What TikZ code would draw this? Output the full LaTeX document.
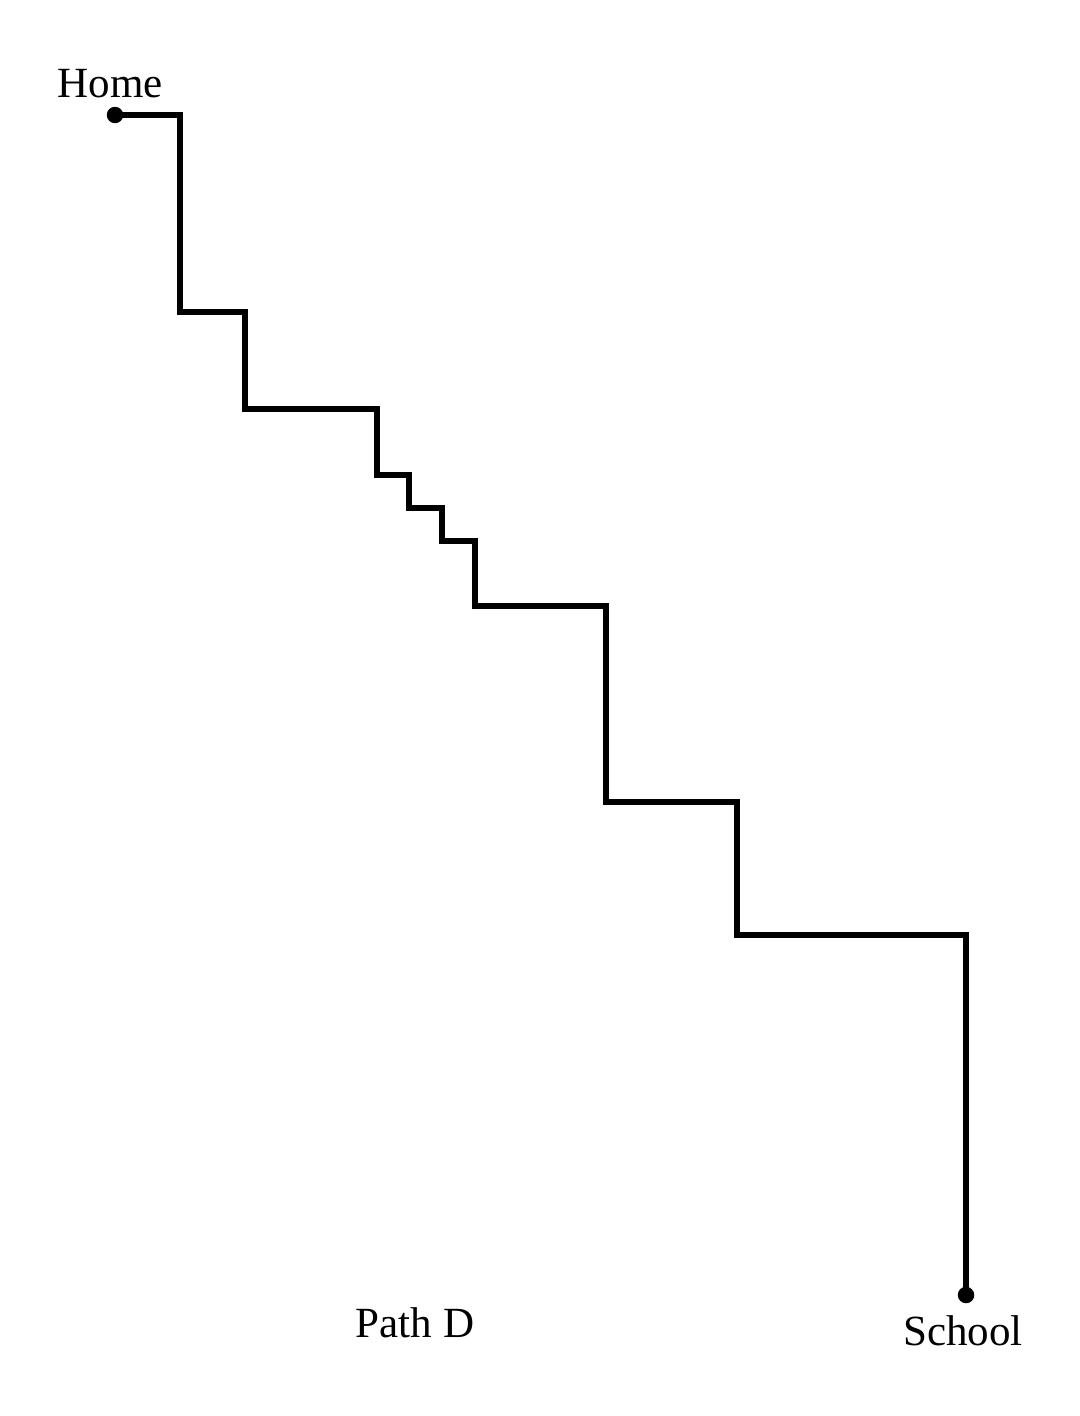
\documentclass[tikz,border=0pt]{standalone}
\usepackage{fontspec}
\setmainfont{Liberation Serif}
\usetikzlibrary{positioning}
\tikzset{
  route/.style={draw=black,line width=3pt,line join=miter},
  stop/.style={circle,fill=black,inner sep=0pt,minimum size=0.33cm},
  lbl/.style={anchor=base,font=\fontsize{24.5}{29}\selectfont,inner sep=0pt},
}
\begin{document}
\begin{tikzpicture}[x=0.02cm,y=-0.02cm]
  \useasboundingbox (0,0) rectangle (1079,1416);
  \node[stop] (home) at (115,115) {};
  \node[stop] (school) at (966,1295) {};
  \node[lbl] (homelbl) at (110,97) {Home};
  \node[lbl] (schoollbl) at (963,1345) {School};
  \node[lbl] (pathlbl) at (415,1337) {Path D};
  \draw[route] (home.center) -- (180,115) -- (180,312) -- (245,312)
    -- (245,409) -- (377,409) -- (377,475) -- (409,475) -- (409,508)
    -- (442,508) -- (442,541) -- (475,541) -- (475,606) -- (606,606)
    -- (606,802) -- (737,802) -- (737,935) -- (966,935) -- (school.center);
\end{tikzpicture}
\end{document}
